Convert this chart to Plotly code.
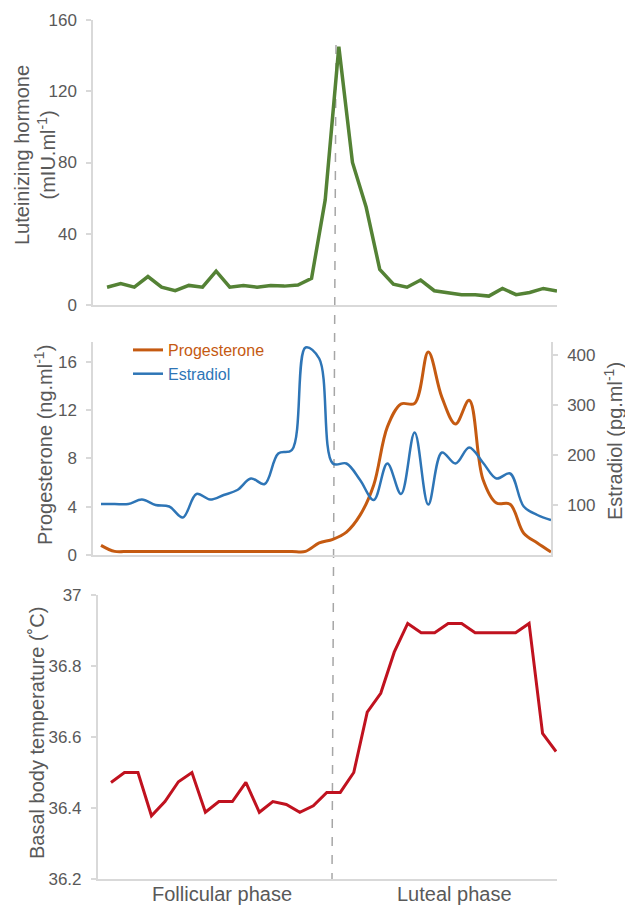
import plotly.graph_objects as go

# ---------------- data ----------------
day_index = list(range(34))

lh_values = [10, 12, 10, 16, 10, 8, 11, 10, 19, 10, 11, 10, 11, 10.6, 11.2, 15,
             59, 145, 80, 55, 20, 11.7, 10, 14, 8, 7, 5.8, 5.8, 5, 9.3, 5.8, 7, 9.3, 7.8]

progesterone_values = [0.8, 0.3, 0.3, 0.3, 0.3, 0.3, 0.3, 0.3, 0.3, 0.3, 0.3, 0.3, 0.3, 0.3, 0.3, 0.3,
                       1.0, 1.3, 1.9, 3.3, 5.8, 10.6, 12.5, 12.55, 16.8, 13.05, 10.85, 12.8,
                       6.3, 4.3, 4.2, 1.8, 1.0, 0.25]

estradiol_values = [102, 102, 102, 111, 100, 97, 75, 122, 111, 120, 130, 153, 142, 203, 210, 415,
                    393, 183, 183, 150, 110, 183, 122, 245, 101, 205, 183, 215, 185, 153, 163, 97, 80, 70]

bbt_values = [36.472, 36.50, 36.50, 36.378, 36.418, 36.474, 36.50, 36.388, 36.418, 36.418, 36.472,
              36.388, 36.418, 36.410, 36.388, 36.406, 36.444, 36.444, 36.50, 36.67, 36.723, 36.839,
              36.92, 36.894, 36.894, 36.92, 36.92, 36.894, 36.894, 36.894, 36.894, 36.92, 36.61, 36.559]

phase_labels = ["Follicular phase", "Luteal phase"]

# ---------------- style ----------------
W, H = 625, 907
FONT = "Liberation Sans, Arial, sans-serif"
GRAY_TXT = "#595959"
AX_COL = "#D9D9D9"
GREEN = "#548235"
ORANGE = "#C55A11"
BLUE = "#2E75B6"
RED = "#C0121F"


def px(x):
    return x / W


def py(y):
    return 1 - y / H


fig = go.Figure()

fig.add_trace(go.Scatter(x=day_index, y=lh_values, mode="lines",
                         line=dict(color=GREEN, width=3.5), xaxis="x", yaxis="y",
                         showlegend=False))
fig.add_trace(go.Scatter(x=day_index, y=progesterone_values, mode="lines",
                         name='<span style="color:%s">Progesterone</span>' % ORANGE,
                         line=dict(color=ORANGE, width=3, shape="spline", smoothing=1),
                         xaxis="x2", yaxis="y2"))
fig.add_trace(go.Scatter(x=day_index, y=estradiol_values, mode="lines",
                         name='<span style="color:%s">Estradiol</span>' % BLUE,
                         line=dict(color=BLUE, width=2.5, shape="spline", smoothing=1),
                         xaxis="x2", yaxis="y3"))
fig.add_trace(go.Scatter(x=day_index, y=bbt_values, mode="lines",
                         line=dict(color=RED, width=3), xaxis="x3", yaxis="y4",
                         showlegend=False))

common_x = dict(showgrid=False, zeroline=False, showticklabels=False, ticks="",
                showline=True, linecolor=AX_COL, linewidth=1.5)
common_y = dict(showgrid=False, zeroline=False, showline=True, linecolor=AX_COL, linewidth=1.5,
                ticks="outside", ticklen=5, tickcolor=AX_COL, tickwidth=1.5,
                tickfont=dict(family=FONT, size=17, color=GRAY_TXT), ticklabelstandoff=6,
                automargin=False)

fig.update_layout(
    width=W, height=H,
    margin=dict(l=0, r=0, t=0, b=0, pad=0, autoexpand=False),
    paper_bgcolor="white", plot_bgcolor="rgba(0,0,0,0)",
    font=dict(family=FONT, color=GRAY_TXT),
    xaxis=dict(domain=[px(93), px(557)], range=[-1.03, 33], anchor="y", **common_x),
    yaxis=dict(domain=[py(305), py(20)], range=[0, 160], tickvals=[0, 40, 80, 120, 160],
               anchor="x", **common_y),
    xaxis2=dict(domain=[px(93), px(551)], range=[-0.587, 33], anchor="y2", **common_x),
    yaxis2=dict(domain=[py(555), py(342)], range=[0, 17.63], tickvals=[0, 4, 8, 12, 16],
                anchor="x2", **common_y),
    yaxis3=dict(overlaying="y2", side="right", range=[0, 426], tickvals=[100, 200, 300, 400],
                anchor="x2", **common_y),
    xaxis3=dict(domain=[px(97.7), px(557)], range=[-0.986, 33.07], anchor="y4", **common_x),
    yaxis4=dict(domain=[py(879), py(595)], range=[36.2, 37],
                tickvals=[36.2, 36.4, 36.6, 36.8, 37],
                ticktext=["36.2", "36.4", "36.6", "36.8", "37"],
                anchor="x3", **common_y),
    legend=dict(x=px(128), y=py(333), xanchor="left", yanchor="top",
                bgcolor="rgba(0,0,0,0)", font=dict(family=FONT, size=16),
                itemwidth=30, tracegroupgap=0),
    showlegend=True,
)

# ovulation dashed line
fig.add_shape(type="line", xref="paper", yref="paper",
              x0=px(336), y0=py(45), x1=px(332), y1=py(880),
              line=dict(color="#A6A6A6", width=1.5, dash="dash"), layer="below")

ann_font = dict(family=FONT, size=20, color=GRAY_TXT)
annotations = [
    dict(text="Luteinizing hormone<br>(mIU.ml<sup>-1</sup>)", x=px(35), y=py(155),
         textangle=-90),
    dict(text="Progesterone (ng.ml<sup>-1</sup>)", x=px(44), y=py(445), textangle=-90),
    dict(text="Estradiol (pg.ml<sup>-1</sup>)", x=px(613), y=py(441), textangle=-90),
    dict(text="Basal body temperature (˚C)", x=px(37), y=py(733), textangle=-90),
    dict(text=phase_labels[0], x=px(222), y=py(894), textangle=0),
    dict(text=phase_labels[1], x=px(454), y=py(894), textangle=0),
]
for a in annotations:
    fig.add_annotation(xref="paper", yref="paper", showarrow=False,
                       xanchor="center", yanchor="middle", font=ann_font, **a)

fig.write_html("out.html", config={"displayModeBar": False},
               post_script="document.body.style.margin='0';document.body.style.overflow='hidden';")
